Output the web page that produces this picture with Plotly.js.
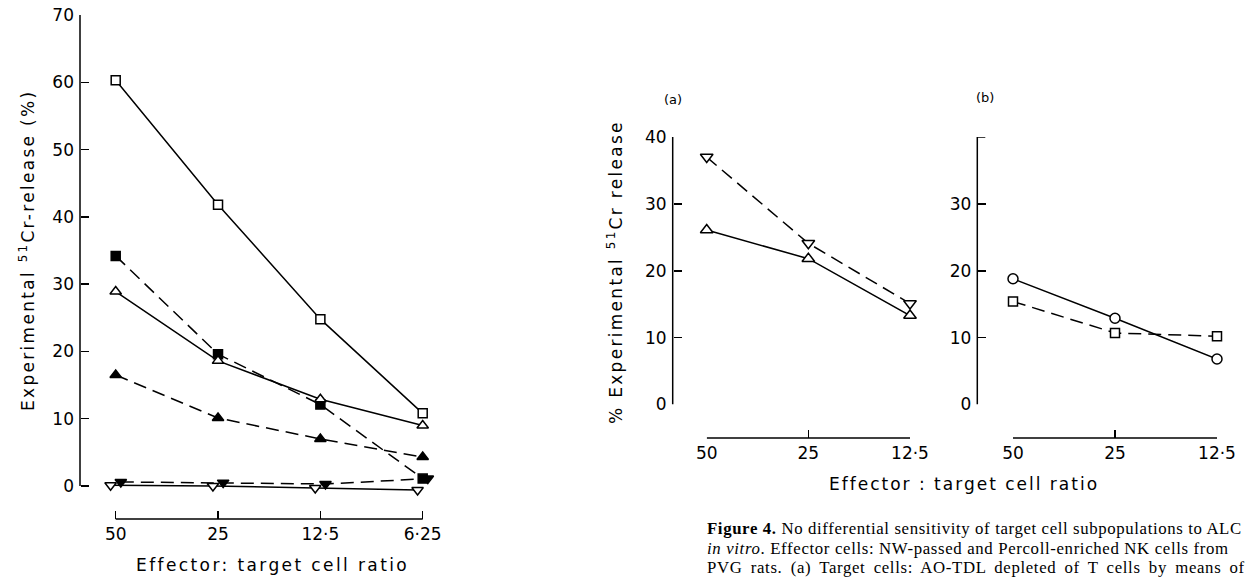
<!DOCTYPE html>
<html>
<head>
<meta charset="utf-8">
<script src="https://cdn.plot.ly/plotly-3.0.1.min.js"></script>
<style>
  html, body { margin: 0; padding: 0; background: #fff; }
  #chart { width: 1249px; height: 578px; }
</style>
</head>
<body>
<div id="chart"></div>
<script>
// ---------- data ----------
var ratiosLeft = ['50', '25', '12·5', '6·25'];
var ratiosRight = ['50', '25', '12·5'];

// left figure (% experimental 51Cr release)
var openSquare    = [60.3, 41.8, 24.8, 10.8];
var filledSquare  = [34.2, 19.6, 12.1, 1.1];
var openTriUp     = [28.9, 18.6, 12.9, 9.0];
var filledTriUp   = [16.5, 10.1, 7.0, 4.3];
var filledTriDown = [0.6, 0.5, 0.3, 1.1];
var openTriDown   = [0.1, 0.0, -0.3, -0.6];

// panel (a)
var aTriDown = [37.0, 24.1, 15.1];
var aTriUp   = [26.1, 21.8, 13.3];

// panel (b)
var bCircle = [18.8, 12.9, 6.8];
var bSquare = [15.4, 10.7, 10.2];

var leftTicks = [0, 10, 20, 30, 40, 50, 60, 70];
var aTicks = [0, 10, 20, 30, 40];
var bTicks = [0, 10, 20, 30];
var bTop = 40;

// ---------- helpers ----------
var W = 1249, H = 578;
function px(x) { return x / W; }
function py(y) { return 1 - y / H; }
function idx(arr, shift) { return arr.map(function (_, i) { return i + (shift || 0); }); }

var DASH = '13px,7px';
var LW = 1.5;
function trace(xs, ys, xa, ya, symbol, filled, dashed, size) {
  return {
    type: 'scatter', mode: 'lines+markers', x: xs, y: ys, xaxis: xa, yaxis: ya,
    cliponaxis: false,
    line: { color: '#000', width: LW, dash: dashed ? DASH : 'solid' },
    marker: { symbol: symbol, size: size || 9, color: filled ? '#000' : '#fff',
              line: { color: '#000', width: LW } },
    showlegend: false, hoverinfo: 'skip'
  };
}

var traces = [
  trace(idx(ratiosLeft), openSquare, 'x', 'y', 'square', false, false, 9),
  trace(idx(ratiosLeft), filledSquare, 'x', 'y', 'square', true, true, 9),
  trace(idx(ratiosLeft), openTriUp, 'x', 'y', 'triangle-up', false, false, 10),
  trace(idx(ratiosLeft), filledTriUp, 'x', 'y', 'triangle-up', true, true, 10),
  trace(idx(ratiosLeft, 0.05), filledTriDown, 'x', 'y', 'triangle-down', true, true, 10),
  trace(idx(ratiosLeft, -0.05), openTriDown, 'x', 'y', 'triangle-down', false, false, 10),

  trace(idx(ratiosRight), aTriDown, 'x2', 'y2', 'triangle-down', false, true, 11),
  trace(idx(ratiosRight), aTriUp, 'x2', 'y2', 'triangle-up', false, false, 11),

  trace(idx(ratiosRight), bCircle, 'x3', 'y3', 'circle', false, false, 10),
  trace(idx(ratiosRight), bSquare, 'x3', 'y3', 'square', false, true, 9)
];

var tickFont = { family: 'DejaVu Sans, sans-serif', size: 17, color: '#000' };

function xAxis(domain, range, pos, labels) {
  return {
    domain: domain, range: range, anchor: 'free', position: pos,
    tickmode: 'array', tickvals: idx(labels), ticktext: labels,
    ticks: 'inside', ticklen: 8, tickwidth: LW, tickcolor: '#000',
    showline: false, zeroline: false, showgrid: false,
    tickfont: tickFont, ticklabelstandoff: 3, fixedrange: true
  };
}
function yAxis(domain, range, pos, vals) {
  return {
    domain: domain, range: range, anchor: 'free', position: pos,
    tickmode: 'array', tickvals: vals, ticktext: vals.map(String),
    ticks: 'inside', ticklen: 8, tickwidth: LW, tickcolor: '#000',
    showline: false, zeroline: false, showgrid: false,
    tickfont: tickFont, ticklabelstandoff: 6, fixedrange: true
  };
}

// left figure geometry
var leftX = xAxis([px(100.35), px(438.05)], [-0.15, 3.15], py(519), ratiosLeft);
var leftY = yAxis([py(496.1), py(15)], [-1.5, 70], px(80), leftTicks);
// panel (a)
var aX = xAxis([px(706.7), px(910)], [0, 2], py(438), ratiosRight);
var aY = yAxis([py(404.5), py(137)], [0, 40], px(672.7), aTicks);
// panel (b)
var bX = xAxis([px(1013), px(1217)], [0, 2], py(438), ratiosRight);
var bY = yAxis([py(404.5), py(137)], [0, 40], px(977.3), bTicks);

function vline(xpaper, yref, y0, y1) {
  return { type: 'line', xref: 'paper', yref: yref, x0: xpaper, x1: xpaper, y0: y0, y1: y1,
           line: { color: '#000', width: LW } };
}
function hline(xref, x0, x1, ypaper) {
  return { type: 'line', xref: xref, yref: 'paper', x0: x0, x1: x1, y0: ypaper, y1: ypaper,
           line: { color: '#000', width: LW } };
}

var shapes = [
  vline(px(80), 'y', 0, 70),
  hline('x', 0, ratiosLeft.length - 1, py(519)),
  vline(px(672.7), 'y2', 0, 40),
  hline('x2', 0, ratiosRight.length - 1, py(438)),
  vline(px(977.3), 'y3', 0, bTop),
  hline('x3', 0, ratiosRight.length - 1, py(438)),
  // unlabelled top tick of panel (b)
  { type: 'line', xref: 'paper', yref: 'y3', x0: px(977.3), x1: px(985.3), y0: bTop, y1: bTop,
    line: { color: '#000', width: LW } }
];

var sp = function (t, s, ws) {
  return '<span style="letter-spacing:' + s + 'px' + (ws ? ';word-spacing:' + ws + 'px' : '') + '">' + t + '</span>';
};
var titleFont = { family: 'DejaVu Sans, sans-serif', size: 17, color: '#000' };
var capFont = { family: 'Liberation Serif, Times New Roman, serif', size: 16.8, color: '#000' };
var panelFont = { family: 'DejaVu Sans, sans-serif', size: 13, color: '#000' };

function ann(text, x, y, opts) {
  var a = { text: text, x: x, y: y, xref: 'paper', yref: 'paper', showarrow: false,
            xanchor: 'center', yanchor: 'middle', font: titleFont };
  for (var k in (opts || {})) a[k] = opts[k];
  return a;
}

var annotations = [
  ann(sp('Experimental <sup>51</sup>Cr-release (%)', 2.3), px(27), py(251), { textangle: -90 }),
  ann(sp('Effector: target cell ratio', 2.4), px(272.5), py(565)),
  ann(sp('% Experimental <sup>51</sup>Cr release', 2.3), px(615), py(272), { textangle: -90 }),
  ann(sp('Effector : target cell ratio', 2.0), px(964), py(484)),
  ann('(a)', px(673), py(100), { font: panelFont }),
  ann('(b)', px(985), py(98), { font: panelFont }),
  ann(sp('<b>Figure 4.</b> No differential sensitivity of target cell subpopulations to ALC', 0.62),
      px(705), py(528.5), { xanchor: 'left', font: capFont }),
  ann(sp('<i>in vitro</i>. Effector cells: NW-passed and Percoll-enriched NK cells from', 0.65),
      px(705), py(548), { xanchor: 'left', font: capFont }),
  ann(sp('PVG rats. (a) Target cells: AO-TDL depleted of T cells by means of', 0.65, 3.4),
      px(705), py(567.5), { xanchor: 'left', font: capFont })
];

var layout = {
  width: W, height: H,
  margin: { l: 0, r: 0, t: 0, b: 0, pad: 0 },
  paper_bgcolor: '#fff', plot_bgcolor: 'rgba(0,0,0,0)',
  showlegend: false,
  xaxis: leftX, yaxis: leftY,
  xaxis2: aX, yaxis2: aY,
  xaxis3: bX, yaxis3: bY,
  shapes: shapes,
  annotations: annotations
};

Plotly.newPlot('chart', traces, layout, { staticPlot: true, displayModeBar: false });
</script>
</body>
</html>
